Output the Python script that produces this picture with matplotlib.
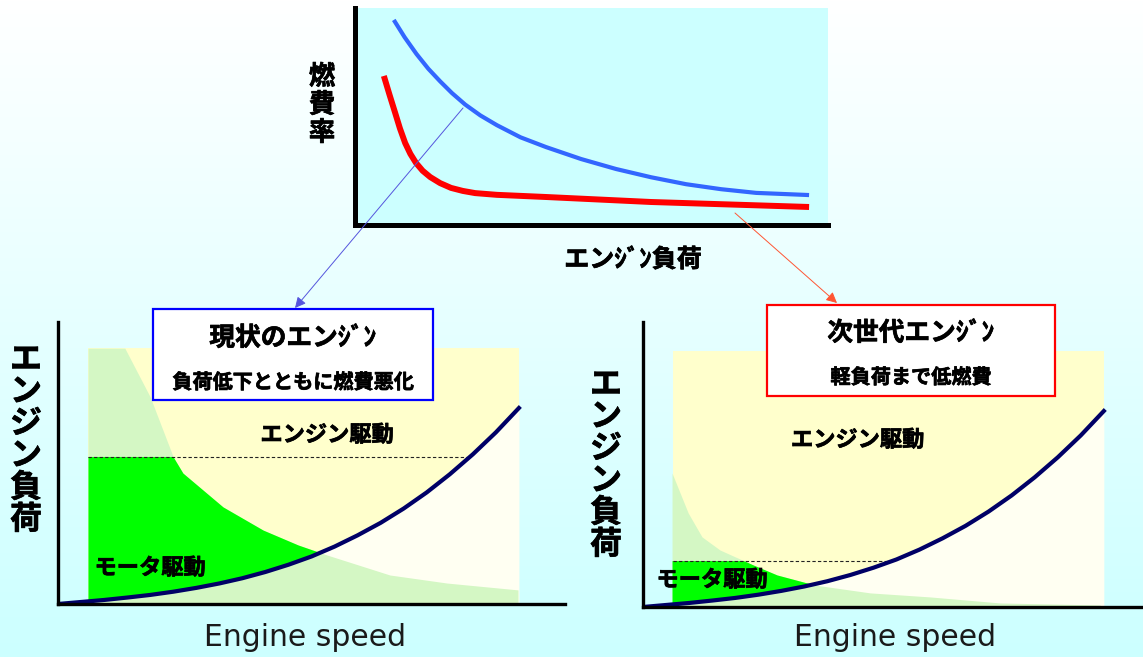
import numpy as np
import matplotlib.pyplot as plt
import matplotlib.patheffects as pe
from matplotlib.patches import Rectangle, Polygon
from matplotlib.colors import LinearSegmentedColormap

W, H = 1143, 657

# ---------- top chart: fuel consumption rate vs engine load ----------
blue_load = [8.2, 10.5, 13, 15.5, 18, 20.5, 23.3, 26.5, 30, 35, 40.4, 47.8,
             55.2, 62.6, 70, 77.4, 84.8, 96]
blue_rate = [94.5, 86.5, 78.8, 72.0, 66.2, 60.8, 55.5, 50.5, 46.0, 40.4, 35.9, 30.4,
             25.8, 22.0, 18.8, 16.5, 14.8, 13.8]
red_load = [6.1, 7.3, 8.5, 9.5, 10.6, 11.7, 12.9, 14.3, 15.9, 18, 20.3, 22.8,
            25.4, 30, 40.4, 62.6, 96.0]
red_rate = [68.7, 60.0, 51.6, 44.5, 37.8, 32.8, 28.6, 25.0, 22.1, 19.3, 17.1, 15.7,
            14.7, 13.9, 12.9, 10.6, 8.3]

# ---------- bottom charts: engine load vs engine speed ----------
speed = [0, 5, 10, 15, 20, 25, 30, 35, 40, 45, 50, 55, 60, 65, 70, 75, 80, 85, 90, 95, 100]
road_load = [0, 1.0, 2.0, 3.2, 4.5, 6.1, 8.0, 10.2, 12.8, 15.9, 19.5, 23.6,
             28.5, 34.1, 40.3, 47.4, 55.4, 64.4, 74.3, 85.2, 97.3]

# region where engine can run (yellow area)
area_speed = [6.5, 100]
area_load_max = 127

# current engine: poor efficiency boundary and motor limit
now_x = [6.5, 14.5, 20.0, 25.0, 27.1, 35.8, 44.5, 52.1, 58.4, 72.0, 84.4, 99.8]
now_y = [127, 127, 102.8, 73.0, 65.0, 48.2, 36.7, 29.3, 24.3, 14.4, 10.4, 7.0]
now_motor_limit = 73

# next-generation engine
next_x = [6.3, 9.8, 12.8, 16.7, 23.9, 29.1, 37.3, 49.3, 62.3, 77.5, 99.2]
next_y = [66.5, 46.7, 34.8, 28.3, 20.9, 15.9, 10.9, 7.0, 5.0, 2.0, 1.0]
next_motor_limit = 22.8

plt.rcParams['font.family'] = ['Noto Sans CJK JP', 'DejaVu Sans']

fig = plt.figure(figsize=(W / 100, H / 100), dpi=100)


def px_box(l, t, r, b):
    return [l / W, 1 - b / H, (r - l) / W, (b - t) / H]


# background gradient
bg = fig.add_axes([0, 0, 1, 1])
cmap = LinearSegmentedColormap.from_list('bgc', ['#FFFFFF', '#CCFFFF'])
bg.imshow(np.linspace(0, 1, 256)[:, None], cmap=cmap, aspect='auto',
          extent=[0, 1, 0, 1])
bg.axis('off')

# top chart
ax0 = fig.add_axes(px_box(355, 8, 828, 225))
ax0.set_facecolor('#CCFFFF')
ax0.plot(blue_load, blue_rate, color='#3366FF', lw=3.0, solid_capstyle='butt')
ax0.plot(red_load, red_rate, color='#FF0000', lw=4.3, solid_capstyle='butt')
ax0.set_xlim(0, 100)
ax0.set_ylim(0, 100)
for s in ['top', 'right']:
    ax0.spines[s].set_visible(False)
for s in ['left', 'bottom']:
    ax0.spines[s].set_linewidth(3.6)
ax0.set_xticks([])
ax0.set_yticks([])


def panel(rect, xmax, ymax, bx, by, limit):
    ax = fig.add_axes(rect)
    ax.patch.set_visible(False)
    ax.set_xlim(0, xmax)
    ax.set_ylim(0, ymax)
    yellow = Rectangle((area_speed[0], 0), area_speed[1] - area_speed[0], area_load_max,
                       facecolor='#FFFFCC', edgecolor='none', zorder=1)
    ax.add_patch(yellow)
    under = ax.fill_between(speed, 0, road_load, color='#FFFFF2', lw=0, zorder=2)
    under.set_clip_path(yellow)
    # light green area (poor efficiency zone)
    ax.fill_between(bx, 0, by, color='#D4F7C4', lw=0, zorder=3)
    # motor region: above road load curve and below motor limit
    clip_pts = [(0, limit), (xmax, limit)] + list(zip(speed, road_load))[::-1]
    motor_clip = Polygon(clip_pts, closed=True, transform=ax.transData)
    solid = ax.fill_between(bx, 0, by, color='#00FF00', lw=0, zorder=4)
    solid.set_clip_path(motor_clip)
    above = Polygon(list(zip(speed, road_load)) + [(speed[-1], ymax * 2), (0, ymax * 2)],
                    closed=True, transform=ax.transData)
    dash, = ax.plot(area_speed, [limit, limit], color='#222222', lw=0.8,
                    dashes=(3, 2), zorder=5)
    dash.set_clip_path(above)
    ax.plot(speed, road_load, color='#000066', lw=3.0, zorder=6)
    for s in ['top', 'right']:
        ax.spines[s].set_visible(False)
    for s in ['left', 'bottom']:
        ax.spines[s].set_linewidth(2.4)
        ax.spines[s].set_zorder(7)
    ax.set_xticks([])
    ax.set_yticks([])
    return ax


ax1 = panel(px_box(58, 322, 565, 604), 110, 140, now_x, now_y, now_motor_limit)
ax2 = panel(px_box(643, 322, 1143, 607), 108.5, 141.5, next_x, next_y, next_motor_limit)

heavy = [pe.withStroke(linewidth=0.5, foreground='black')]
bold = dict(fontweight='bold', color='black', ha='center', va='center', path_effects=heavy)
ax1.text(58.4, 83.9, 'エンジン駆動', fontsize=16, zorder=8, **bold)
ax1.text(20, 17.9, 'モータ駆動', fontsize=16, zorder=8, **bold)
ax2.text(46.6, 82.9, 'エンジン駆動', fontsize=16, zorder=8, **bold)
ax2.text(15, 13.4, 'モータ駆動', fontsize=16, zorder=8, **bold)

# overlay for labels, boxes and arrows (pixel coordinates)
ov = fig.add_axes([0, 0, 1, 1])
ov.set_xlim(0, W)
ov.set_ylim(H, 0)
ov.axis('off')
ov.patch.set_visible(False)

ov.text(322, 105, '燃\n費\n率', fontsize=19, linespacing=1.05, **bold)
ov.text(633, 260, 'エンｼﾞﾝ負荷', fontsize=18, **bold)
ov.text(26, 440, '\n'.join('エンジン負荷'), fontsize=23, linespacing=1.0, **bold)
ov.text(606, 465, '\n'.join('エンジン負荷'), fontsize=23, linespacing=1.0, **bold)
ov.text(305, 638, 'Engine speed', fontsize=21.5, color='#1a1a1a', ha='center',
        va='center', family='DejaVu Sans')
ov.text(895, 638, 'Engine speed', fontsize=21.5, color='#1a1a1a', ha='center',
        va='center', family='DejaVu Sans')

ov.add_patch(Rectangle((153, 309), 280, 91, facecolor='white', edgecolor='#0000FF', lw=1.6))
ov.text(293, 338, '現状のエンｼﾞﾝ', fontsize=18.5, **bold)
ov.text(293, 382, '負荷低下とともに燃費悪化', fontsize=14.5, **bold)
ov.add_patch(Rectangle((767, 305), 288, 91, facecolor='white', edgecolor='#FF0000', lw=1.6))
ov.text(911, 333, '次世代エンｼﾞﾝ', fontsize=18.5, **bold)
ov.text(911, 377, '軽負荷まで低燃費', fontsize=14.5, **bold)

ov.annotate('', xy=(295, 308), xytext=(463, 108),
            arrowprops=dict(arrowstyle='-|>', color='#5555DD', lw=0.7,
                            mutation_scale=16, shrinkA=0, shrinkB=0))
ov.annotate('', xy=(837, 303), xytext=(735, 213),
            arrowprops=dict(arrowstyle='-|>', color='#FF5533', lw=0.7,
                            mutation_scale=16, shrinkA=0, shrinkB=0))

fig.savefig('out.png', dpi=100)
